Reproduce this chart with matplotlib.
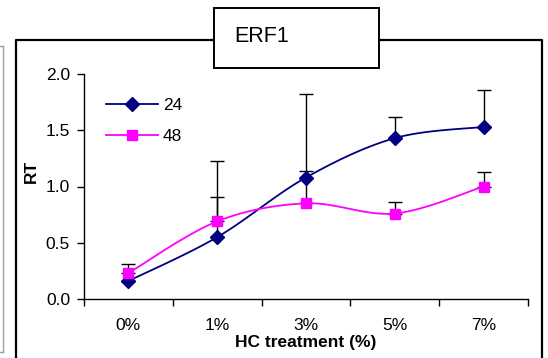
import numpy as np
import matplotlib
matplotlib.use("Agg")
import matplotlib.pyplot as plt
from matplotlib.patches import Rectangle
from matplotlib.lines import Line2D

categories = ["0%", "1%", "3%", "5%", "7%"]
series_names = ["24", "48"]
values_24 = [0.16, 0.55, 1.08, 1.43, 1.53]
err_24 = [0.0, 0.68, 0.74, 0.19, 0.33]
values_48 = [0.23, 0.69, 0.85, 0.76, 1.00]
err_48 = [0.08, 0.22, 0.29, 0.10, 0.13]
title = "ERF1"
xlabel = "HC treatment (%)"
ylabel = "RT"

W, H = 548, 358
fig = plt.figure(figsize=(W / 100, H / 100), dpi=100)
plt.rcParams['font.family'] = ['Liberation Sans', 'DejaVu Sans']
FS = 12.5

def fx(px):
    return px / W

def fy(py):
    return 1 - py / H

# neighbouring panel edge (gray)
fig.add_artist(Line2D([fx(3), fx(3)], [fy(46), fy(352)], color="#a0a0a0", lw=1.0))
fig.add_artist(Line2D([0, fx(3)], [fy(46), fy(46)], color="#a0a0a0", lw=1.0))
fig.add_artist(Line2D([0, fx(3)], [fy(352), fy(352)], color="#a0a0a0", lw=1.0))

# chart frame (black)
fig.add_artist(Line2D([fx(16), fx(16), fx(542), fx(542)],
                      [fy(360), fy(40), fy(40), fy(360)], color="black", lw=1.6))

ax = fig.add_axes([fx(84), fy(299), fx(528) - fx(84), fy(74) - fy(299)])
ax.patch.set_alpha(0)

def smooth(xs, ys, n=30):
    xs = np.asarray(xs, float)
    ys = np.asarray(ys, float)
    P = np.column_stack([xs, ys])
    out = [P[0]]
    for i in range(len(P) - 1):
        p0 = P[i - 1] if i > 0 else P[i]
        p1 = P[i]
        p2 = P[i + 1]
        p3 = P[i + 2] if i + 2 < len(P) else P[i + 1]
        c1 = p1 + (p2 - p0) / 6
        c2 = p2 - (p3 - p1) / 6
        t = np.linspace(0, 1, n)[1:, None]
        seg = ((1 - t) ** 3) * p1 + 3 * ((1 - t) ** 2) * t * c1 + 3 * (1 - t) * t ** 2 * c2 + t ** 3 * p2
        out.extend(seg)
    out = np.array(out)
    return out[:, 0], out[:, 1]

x = np.arange(len(categories))

# error bars (upper only)
ax.errorbar(x, values_24, yerr=[np.zeros(len(x)), err_24], fmt="none",
            ecolor="black", elinewidth=1.0, capsize=5, capthick=1.0, zorder=2)
ax.errorbar(x, values_48, yerr=[np.zeros(len(x)), err_48], fmt="none",
            ecolor="black", elinewidth=1.0, capsize=5, capthick=1.0, zorder=2)

sx, sy = smooth(x, values_24)
ax.plot(sx, sy, color="#000080", lw=1.3, zorder=3)
ax.plot(x, values_24, ls="none", marker="D", ms=7, color="#000080", zorder=4)
sx, sy = smooth(x, values_48)
ax.plot(sx, sy, color="#FF00FF", lw=1.3, zorder=3)
ax.plot(x, values_48, ls="none", marker="s", ms=6.5, color="#FF00FF", zorder=4)

ax.set_xlim(-0.5, len(categories) - 0.5)
ax.set_ylim(0, 2.0)
ax.set_yticks([0, 0.5, 1.0, 1.5, 2.0])
ax.set_yticklabels(["0.0", "0.5", "1.0", "1.5", "2.0"], fontsize=FS)
ax.set_xticks(np.arange(-0.5, len(categories), 1.0))
ax.set_xticklabels([])
ax.set_xticks(x, minor=True)
ax.set_xticklabels(categories, minor=True, fontsize=FS)
ax.tick_params(axis="x", which="major", direction="out", length=5, width=1.0)
ax.tick_params(axis="x", which="minor", length=0, pad=14)
ax.tick_params(axis="y", direction="out", length=5, width=1.0, pad=5)
for s in ["top", "right"]:
    ax.spines[s].set_visible(False)
for s in ["left", "bottom"]:
    ax.spines[s].set_linewidth(1.0)

fig.text(fx(306), fy(343), xlabel, ha="center", va="center", fontsize=FS, fontweight="bold")
fig.text(fx(31.5), fy(171), ylabel, ha="center", va="center", fontsize=FS, fontweight="bold", rotation=90)

# legend
handles = [Line2D([], [], color="#000080", marker="D", ms=7, lw=1.3),
           Line2D([], [], color="#FF00FF", marker="s", ms=6.5, lw=1.3)]
fig.legend(handles, series_names, loc="upper left", bbox_to_anchor=(fx(97), fy(89)),
           frameon=False, fontsize=FS, handlelength=3.0, handletextpad=0.3,
           labelspacing=0.95, borderpad=0)

# title box
fig.add_artist(Rectangle((fx(214), fy(68)), fx(379) - fx(214), fy(8) - fy(68),
                         facecolor="white", edgecolor="black", lw=1.4, zorder=5))
fig.text(fx(262), fy(37), title, ha="center", va="center", fontsize=15.5, zorder=6)

fig.savefig("out.png", dpi=100)
